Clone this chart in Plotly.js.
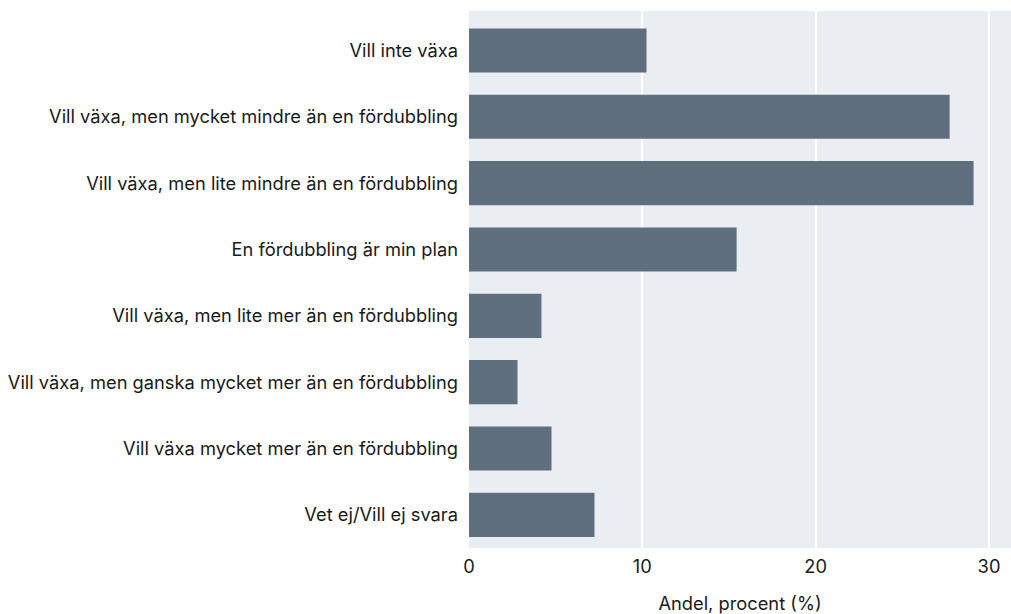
<!DOCTYPE html>
<html>
<head>
<meta charset="utf-8">
<script src="https://cdn.plot.ly/plotly-3.0.1.min.js"></script>
<style>
  html, body { margin: 0; padding: 0; background: #fff; }
  #chart { width: 1011px; height: 614px; }
</style>
</head>
<body>
<div id="chart"></div>
<script>
// ── Data ──
const categories = [
    "Vill inte växa",
    "Vill växa, men mycket mindre än en fördubbling",
    "Vill växa, men lite mindre än en fördubbling",
    "En fördubbling är min plan",
    "Vill växa, men lite mer än en fördubbling",
    "Vill växa, men ganska mycket mer än en fördubbling",
    "Vill växa mycket mer än en fördubbling",
    "Vet ej/Vill ej svara"
];
const shares = [10.24, 27.73, 29.11, 15.44, 4.18, 2.80, 4.76, 7.24];
const xTicks = [0, 10, 20, 30];

// ── Chart ──
const font = { family: "Inter, 'Noto Sans', sans-serif", size: 18.3, color: "#1a1a1a" };

Plotly.newPlot("chart", [{
    type: "bar",
    orientation: "h",
    x: shares,
    y: categories,
    marker: { color: "#5f6f7e" },
    hoverinfo: "x+y"
}], {
    width: 1011,
    height: 614,
    margin: { l: 469, r: 0, t: 11, b: 66 },
    paper_bgcolor: "#ffffff",
    plot_bgcolor: "#eaeef3",
    font: font,
    bargap: 0.335,
    showlegend: false,
    xaxis: {
        range: [0, 31.27],
        tickvals: xTicks,
        showgrid: true,
        gridcolor: "#ffffff",
        gridwidth: 2,
        zeroline: true,
        zerolinecolor: "#eaeef3",
        ticks: "",
        ticklabelstandoff: 6,
        title: { text: "Andel, procent (%)", font: font, standoff: 20 }
    },
    yaxis: {
        type: "category",
        range: [7.5, -0.595],
        showgrid: false,
        zeroline: false,
        ticks: "",
        ticklabelstandoff: 10
    }
}, { displayModeBar: false });
</script>
</body>
</html>
